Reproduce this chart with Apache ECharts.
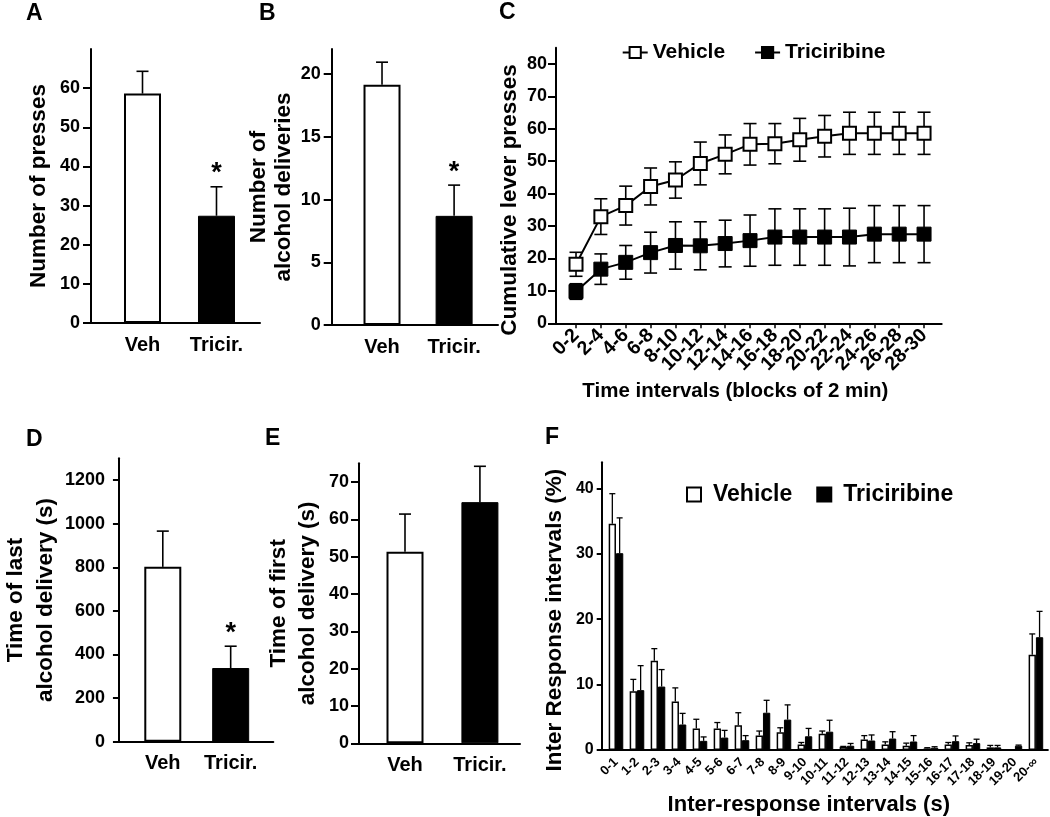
<!DOCTYPE html>
<html><head><meta charset="utf-8">
<script src="https://cdn.jsdelivr.net/npm/echarts@6/dist/echarts.min.js"></script>
<style>html,body{margin:0;padding:0;background:#fff}#c{width:1050px;height:817px}</style>
</head><body><div id="c"></div>
<script>
// ---------------- DATA ----------------
const groupLabels = ['Veh', 'Tricir.'];
const pressesMean = [58.6, 27.4];
const pressesSem = [5.7, 7.4];
const pressesSig = ['', '*'];
const deliveriesMean = [19.15, 8.7];
const deliveriesSem = [1.8, 2.45];
const deliveriesSig = ['', '*'];
const lastDeliveryMean = [802, 338];
const lastDeliverySem = [164, 100];
const lastDeliverySig = ['', '*'];
const firstDeliveryMean = [51.3, 64.6];
const firstDeliverySem = [10.1, 9.6];
const firstDeliverySig = ['', ''];

const timeBlocks = ['0-2','2-4','4-6','6-8','8-10','10-12','12-14','14-16','16-18','18-20','20-22','22-24','24-26','26-28','28-30'];
const cumVehicle = [18.2,32.9,36.3,42.2,44.2,49.3,52.1,55.2,55.4,56.6,57.7,58.6,58.6,58.6,58.6];
const cumVehicleSem = [3.7,5.5,6.0,5.7,5.6,6.6,6.0,6.4,6.2,6.6,6.4,6.5,6.5,6.5,6.5];
const cumTricir = [9.8,16.7,18.8,21.8,24.0,23.9,24.6,25.5,26.6,26.6,26.6,26.6,27.5,27.5,27.5];
const cumTricirSem = [2.4,4.7,5.2,6.3,7.3,7.4,7.2,7.9,8.7,8.7,8.7,8.9,8.8,8.8,8.8];

const iriBins = ['0-1','1-2','2-3','3-4','4-5','5-6','6-7','7-8','8-9','9-10','10-11','11-12','12-13','13-14','14-15','15-16','16-17','17-18','18-19','19-20','20-\u221e'];
const iriVehicle = [34.6,9.0,13.65,7.4,3.3,3.3,3.8,2.2,2.7,0.85,2.5,0.5,1.6,0.85,0.65,0.25,0.85,0.75,0.4,0,14.55];
const iriVehicleSem = [4.6,1.8,1.85,2.1,1.4,0.9,1.9,0.7,0.7,0.3,0.4,0.05,0.6,0.4,0.4,0.1,0.3,0.35,0.3,0,3.2];
const iriTricir = [30.1,9.15,9.7,3.9,1.4,1.9,1.5,5.7,4.65,2.1,2.8,0.65,1.45,1.75,1.3,0.35,1.35,1.05,0.4,0.65,17.25];
const iriTricirSem = [5.4,3.75,2.6,1.7,0.6,1.1,0.7,1.9,2.25,1.2,1.75,0.35,0.85,1.05,0.9,0.15,0.8,0.6,0.3,0.1,3.95];

const seriesNames = ['Vehicle', 'Triciribine'];
const ticksA = [0,10,20,30,40,50,60];
const ticksB = [0,5,10,15,20];
const ticksC = [0,10,20,30,40,50,60,70,80];
const ticksD = [0,200,400,600,800,1000,1200];
const ticksE = [0,10,20,30,40,50,60,70];
const ticksF = [0,10,20,30,40];

// ---------------- STYLE / LAYOUT ----------------
const FONT = '"Liberation Sans", Arial, Helvetica, sans-serif';
const BLACK = '#000';
const whiteStyle = {color:'#fff', borderColor:BLACK, borderWidth:2};
const blackStyle = {color:BLACK, borderColor:BLACK, borderWidth:1};
const groupStyles = [whiteStyle, blackStyle];

const grids = [
  {left:91, top:49, width:169, height:274},       // A
  {left:331.7, top:49, width:166.3, height:276},  // B
  {left:556, top:47.7, width:385.7, height:275.6},// C
  {left:105.7, top:458.3, width:167.6, height:283.4}, // D
  {left:359, top:463.3, width:161, height:280},   // E
  {left:601.7, top:462.3, width:446.6, height:288.7} // F
];
const cXMin = -0.805, cXMax = 14.71;
const fXMin = -0.68, fXMax = 20.57;

function txt(size, extra) {
  return Object.assign({fontFamily:FONT, fontWeight:'bold', color:BLACK, fontSize:size}, extra || {});
}
function axisLineStyle() { return {show:true, onZero:false, lineStyle:{color:BLACK, width:2}}; }

function yAxis(gi, max, ticks, name, nameGap, opt) {
  opt = opt || {};
  return {
    type:'value', gridIndex:gi, min:0, max:max,
    axisLine:axisLineStyle(),
    axisTick:{show:true, length:opt.tickLen || 8, customValues:ticks, lineStyle:{color:BLACK, width:2}},
    axisLabel:Object.assign({customValues:ticks, margin:opt.margin || 11,
      formatter:function(v){ return String(v); }}, txt(opt.labelSize || 18)),
    splitLine:{show:false},
    name:name, nameLocation:'middle', nameRotate:90, nameGap:nameGap,
    nameTextStyle:txt(opt.nameSize || 22.5, {lineHeight:opt.lineHeight || 26, padding:opt.namePad || 0})
  };
}
function barXAxis(gi, min, max) {
  return {
    type:'value', gridIndex:gi, min:min, max:max,
    axisLine:axisLineStyle(), axisTick:{show:false}, splitLine:{show:false},
    axisLabel:Object.assign({customValues:[0,1], margin:12, showMinLabel:true, showMaxLabel:true,
      formatter:function(v){ return groupLabels[Math.round(v)] || ''; }}, txt(20))
  };
}
// category name for integer positions only; blank for the padding end values
function catFormatter(names) {
  return function(v){
    const r = Math.round(v);
    return Math.abs(v - r) < 1e-6 ? (names[r] || '') : '';
  };
}

function barSeries(gi, means) {
  return {
    type:'bar', xAxisIndex:gi, yAxisIndex:gi, barWidth:37, z:2,
    data:means.map(function(m,i){ return {value:[i,m], itemStyle:groupStyles[i]}; })
  };
}

// error bars (upper only or both), with optional significance mark
function errSeries(gi, means, sems, opt) {
  opt = opt || {};
  const cap = opt.cap || 6, dx = opt.dx || 0, both = !!opt.both, sig = opt.sig || [];
  return {
    type:'custom', xAxisIndex:gi, yAxisIndex:gi, z:opt.z || 3, clip:false, silent:true,
    encode:{x:0, y:1},
    data:means.map(function(m,i){ return [i, m, m + sems[i], both ? m - sems[i] : m, sems[i]]; }),
    renderItem:function(params, api) {
      const i = api.value(0);
      const top = api.coord([i, api.value(2)]);
      const bot = api.coord([i, api.value(3)]);
      const x = top[0] + dx;
      const ch = [];
      const ls = {stroke:BLACK, lineWidth:opt.lw || 1.6};
      if (api.value(4) > 0) {
        ch.push({type:'line', shape:{x1:x, y1:top[1], x2:x, y2:bot[1]}, style:ls});
        ch.push({type:'line', shape:{x1:x-cap, y1:top[1], x2:x+cap, y2:top[1]}, style:ls});
        if (both) ch.push({type:'line', shape:{x1:x-cap, y1:bot[1], x2:x+cap, y2:bot[1]}, style:ls});
      }
      const s = sig[params.dataIndex];
      if (s) {
        ch.push({type:'text', style:{text:s, x:x, y:top[1]-13, align:'center', verticalAlign:'middle',
          font:'bold 27px ' + FONT, fill:BLACK}});
      }
      return {type:'group', children:ch};
    }
  };
}

const timeIdx = timeBlocks.map(function(_, i){ return i; });
const iriIdx = iriBins.map(function(_, i){ return i; });

const option = {
  animation:false,
  backgroundColor:'#fff',
  grid:grids.map(function(g){ return Object.assign({containLabel:false}, g); }),
  xAxis:[
    barXAxis(0, -0.696, 1.588),
    barXAxis(1, -0.698, 1.609),
    {
      type:'value', gridIndex:2, min:cXMin, max:cXMax,
      axisLine:axisLineStyle(),
      axisTick:{show:true, length:5, customValues:timeIdx, lineStyle:{color:BLACK, width:1.5}},
      splitLine:{show:false},
      axisLabel:Object.assign({customValues:[cXMin].concat(timeIdx, [cXMax]), rotate:45, margin:9,
        hideOverlap:false, formatter:catFormatter(timeBlocks)}, txt(19.5)),
      name:'Time intervals (blocks of 2 min)', nameLocation:'middle', nameGap:58,
      nameTextStyle:txt(20.5, {padding:[0,27,0,0]})
    },
    barXAxis(3, -0.646, 1.628),
    barXAxis(4, -0.614, 1.535),
    {
      type:'value', gridIndex:5, min:fXMin, max:fXMax,
      axisLine:axisLineStyle(), axisTick:{show:false}, splitLine:{show:false},
      axisLabel:Object.assign({customValues:[fXMin].concat(iriIdx, [fXMax]), rotate:45, margin:10,
        hideOverlap:false, formatter:catFormatter(iriBins)}, txt(13)),
      name:'Inter-response intervals (s)', nameLocation:'middle', nameGap:44,
      nameTextStyle:txt(22, {padding:[0,32,0,0]})
    }
  ],
  yAxis:[
    yAxis(0, 70, ticksA, 'Number of presses', 39),
    yAxis(1, 22, ticksB, 'Number of\nalcohol deliveries', 33, {lineHeight:25}),
    yAxis(2, 85, ticksC, 'Cumulative lever presses', 17, {margin:9, namePad:[0,29,0,0]}),
    yAxis(3, 1300, ticksD, 'Time of last\nalcohol delivery (s)', 56, {lineHeight:30, margin:14, tickLen:6}),
    yAxis(4, 75, ticksE, 'Time of first\nalcohol delivery (s)', 37, {lineHeight:29, margin:10}),
    yAxis(5, 44, ticksF, 'Inter Response intervals (%)', 34, {margin:8, tickLen:5, labelSize:16, namePad:[0,28,0,0]})
  ],
  legend:[
    {
      left:621.7, top:42, padding:0, itemWidth:25, itemHeight:14, itemGap:29, selectedMode:false,
      data:['C-' + seriesNames[0], 'C-' + seriesNames[1]],
      formatter:function(n){ return n.slice(2); },
      textStyle:txt(21)
    },
    {
      left:686, top:483, padding:0, itemWidth:14, itemHeight:14, itemGap:24, selectedMode:false, icon:'rect',
      data:['F-' + seriesNames[0], 'F-' + seriesNames[1]],
      formatter:function(n){ return n.slice(2); },
      textStyle:txt(23, {padding:[0,0,0,7]})
    }
  ],
  graphic:[
    {type:'text', left:26, top:2, style:{text:'A', font:'bold 23px ' + FONT, fill:BLACK}},
    {type:'text', left:259, top:2, style:{text:'B', font:'bold 23px ' + FONT, fill:BLACK}},
    {type:'text', left:499, top:1, style:{text:'C', font:'bold 23px ' + FONT, fill:BLACK}},
    {type:'text', left:26, top:428, style:{text:'D', font:'bold 23px ' + FONT, fill:BLACK}},
    {type:'text', left:265, top:427, style:{text:'E', font:'bold 23px ' + FONT, fill:BLACK}},
    {type:'text', left:545, top:426, style:{text:'F', font:'bold 23px ' + FONT, fill:BLACK}}
  ],
  series:[
    // A
    barSeries(0, pressesMean),
    errSeries(0, pressesMean, pressesSem, {sig:pressesSig}),
    // B
    barSeries(1, deliveriesMean),
    errSeries(1, deliveriesMean, deliveriesSem, {sig:deliveriesSig}),
    // C
    errSeries(2, cumVehicle, cumVehicleSem, {both:true, cap:6.5, z:1}),
    errSeries(2, cumTricir, cumTricirSem, {both:true, cap:6.5, z:1}),
    {
      type:'line', name:'C-' + seriesNames[0], xAxisIndex:2, yAxisIndex:2, z:3,
      data:cumVehicle.map(function(v,i){ return [i,v]; }),
      symbol:'rect', symbolSize:13, showAllSymbol:true,
      lineStyle:{color:BLACK, width:2},
      itemStyle:{color:'#fff', borderColor:BLACK, borderWidth:2}
    },
    {
      type:'line', name:'C-' + seriesNames[1], xAxisIndex:2, yAxisIndex:2, z:3,
      data:cumTricir.map(function(v,i){ return [i,v]; }),
      symbol:'rect', symbolSize:14, showAllSymbol:true,
      lineStyle:{color:BLACK, width:2},
      itemStyle:{color:BLACK, borderColor:BLACK, borderWidth:1}
    },
    // D
    barSeries(3, lastDeliveryMean),
    errSeries(3, lastDeliveryMean, lastDeliverySem, {sig:lastDeliverySig}),
    // E
    barSeries(4, firstDeliveryMean),
    errSeries(4, firstDeliveryMean, firstDeliverySem, {sig:firstDeliverySig}),
    // F
    {
      type:'bar', name:'F-' + seriesNames[0], xAxisIndex:5, yAxisIndex:5, barWidth:7.3, barGap:'0%',
      data:iriVehicle.map(function(v,i){ return [i,v]; }),
      itemStyle:{color:'#fff', borderColor:BLACK, borderWidth:1.5}
    },
    {
      type:'bar', name:'F-' + seriesNames[1], xAxisIndex:5, yAxisIndex:5, barWidth:7.3, barGap:'0%',
      data:iriTricir.map(function(v,i){ return [i,v]; }),
      itemStyle:{color:BLACK, borderColor:BLACK, borderWidth:1}
    },
    errSeries(5, iriVehicle, iriVehicleSem, {dx:-3.65, cap:3, lw:1.3}),
    errSeries(5, iriTricir, iriTricirSem, {dx:3.65, cap:3, lw:1.3})
  ]
};

const chart = echarts.init(document.getElementById('c'), null, {renderer:'canvas'});
chart.setOption(option);
</script>
</body></html>
